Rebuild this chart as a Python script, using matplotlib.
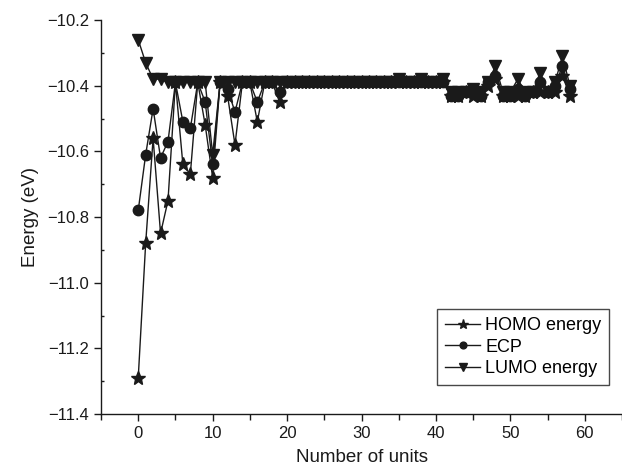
import matplotlib.pyplot as plt

plt.rcParams['font.family'] = ['Liberation Sans', 'DejaVu Sans']

units = list(range(0, 59))

homo = [-11.29, -10.88, -10.56, -10.85, -10.75, -10.39, -10.64, -10.67, -10.39, -10.52,
        -10.68, -10.39, -10.43, -10.58, -10.39, -10.39, -10.51, -10.39, -10.39, -10.45,
        -10.39, -10.39, -10.39, -10.39, -10.39, -10.39, -10.39, -10.39, -10.39, -10.39,
        -10.39, -10.39, -10.39, -10.39, -10.39, -10.39, -10.39, -10.39, -10.39, -10.39,
        -10.39, -10.39, -10.43, -10.43, -10.42, -10.43, -10.43, -10.40, -10.38, -10.43,
        -10.43, -10.43, -10.43, -10.42, -10.42, -10.42, -10.42, -10.37, -10.43]

ecp = [-10.78, -10.61, -10.47, -10.62, -10.57, -10.39, -10.51, -10.53, -10.39, -10.45,
       -10.64, -10.39, -10.41, -10.48, -10.39, -10.39, -10.45, -10.39, -10.39, -10.42,
       -10.39, -10.39, -10.39, -10.39, -10.39, -10.39, -10.39, -10.39, -10.39, -10.39,
       -10.39, -10.39, -10.39, -10.39, -10.39, -10.39, -10.39, -10.39, -10.39, -10.39,
       -10.39, -10.39, -10.43, -10.43, -10.42, -10.42, -10.43, -10.39, -10.37, -10.43,
       -10.43, -10.41, -10.43, -10.42, -10.39, -10.42, -10.40, -10.34, -10.41]

lumo = [-10.26, -10.33, -10.38, -10.38, -10.39, -10.39, -10.39, -10.39, -10.39, -10.39,
        -10.61, -10.39, -10.39, -10.39, -10.39, -10.39, -10.39, -10.39, -10.39, -10.39,
        -10.39, -10.39, -10.39, -10.39, -10.39, -10.39, -10.39, -10.39, -10.39, -10.39,
        -10.39, -10.39, -10.39, -10.39, -10.39, -10.38, -10.39, -10.39, -10.38, -10.39,
        -10.39, -10.38, -10.42, -10.42, -10.42, -10.41, -10.42, -10.39, -10.34, -10.42,
        -10.42, -10.38, -10.42, -10.42, -10.36, -10.42, -10.39, -10.31, -10.40]

ink = '#1a1a1a'

fig = plt.figure(figsize=(6.22, 4.70), dpi=100)
ax = fig.add_axes([0.1624, 0.1191, 0.8376, 0.8383])

ax.plot(units, homo, color=ink, lw=1, marker='*', ms=10.5, label='HOMO energy')
ax.plot(units, ecp, color=ink, lw=1, marker='o', ms=7.5, label='ECP')
ax.plot(units, lumo, color=ink, lw=1, marker='v', ms=8, label='LUMO energy')

ax.set_xlim(-5, 65)
ax.set_ylim(-11.4, -10.2)
ax.set_xticks([0, 10, 20, 30, 40, 50, 60])
ax.set_xticks([-5, 5, 15, 25, 35, 45, 55, 65], minor=True)
ax.set_yticks([-11.4, -11.2, -11.0, -10.8, -10.6, -10.4, -10.2])
ax.set_yticks([-11.3, -11.1, -10.9, -10.7, -10.5, -10.3], minor=True)
ax.set_yticklabels(['\u221211.4', '\u221211.2', '\u221211.0', '\u221210.8',
                    '\u221210.6', '\u221210.4', '\u221210.2'])

ax.spines['top'].set_visible(False)
ax.spines['right'].set_visible(False)
for side in ['left', 'bottom']:
    ax.spines[side].set_color(ink)
    ax.spines[side].set_linewidth(1)

ax.tick_params(axis='both', which='major', direction='out', length=5, width=1,
               colors=ink, labelsize=12)
ax.tick_params(axis='x', which='minor', direction='out', length=4, width=1, colors=ink)
ax.tick_params(axis='y', which='minor', direction='in', length=2, width=1, colors=ink)

ax.set_xlabel('Number of units', fontsize=13.5, color=ink, labelpad=6)
ax.set_ylabel('Energy (eV)', fontsize=13.5, color=ink, labelpad=6)

leg = ax.legend(loc='lower right', bbox_to_anchor=(0.993, 0.05), fontsize=13,
                frameon=True, fancybox=False, handlelength=1.9, handletextpad=0.3,
                labelspacing=0.25, borderpad=0.45, markerscale=0.65)
leg.get_frame().set_edgecolor(ink)
leg.get_frame().set_linewidth(1)

fig.savefig('out.png', dpi=100)
